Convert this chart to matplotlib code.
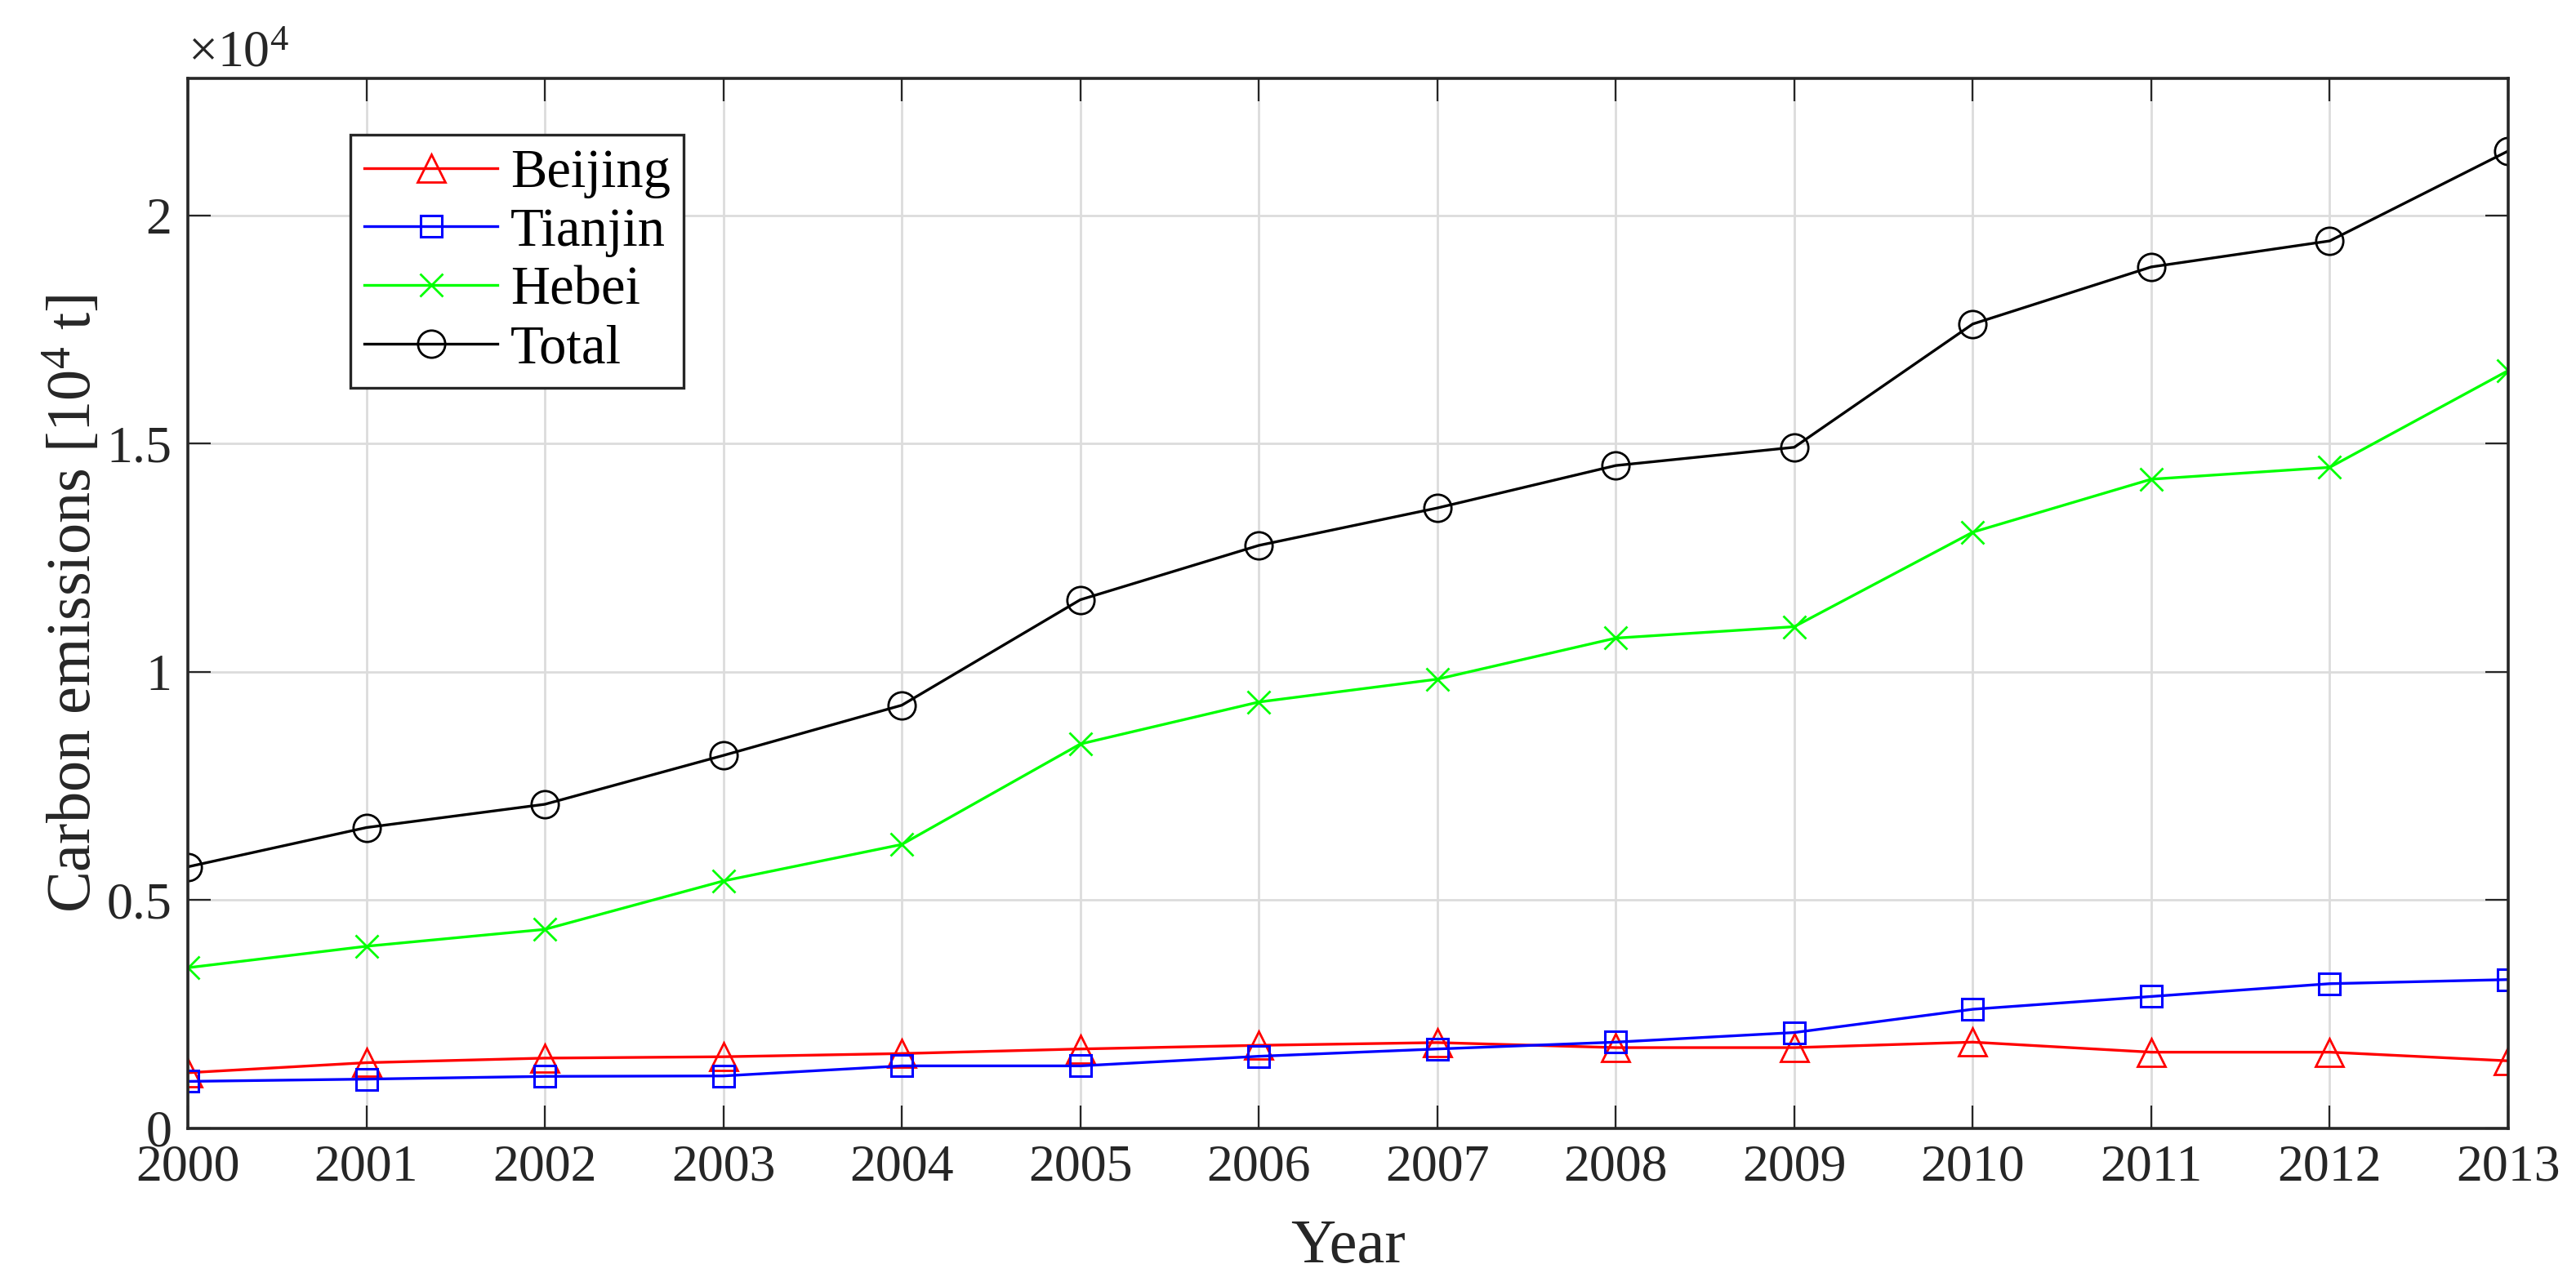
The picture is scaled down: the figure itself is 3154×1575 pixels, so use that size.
import matplotlib
matplotlib.use("Agg")
import matplotlib.pyplot as plt
from matplotlib.ticker import FuncFormatter, FixedLocator

plt.rcParams['font.family'] = ['Liberation Serif', 'DejaVu Serif']
plt.rcParams['mathtext.fontset'] = 'custom'
plt.rcParams['mathtext.rm'] = 'Liberation Serif'
plt.rcParams['mathtext.it'] = 'Liberation Serif:italic'

years = [2000, 2001, 2002, 2003, 2004, 2005, 2006, 2007, 2008, 2009, 2010, 2011, 2012, 2013]
# carbon emissions in 10^4 t
beijing = [1220, 1440, 1540, 1570, 1640, 1740, 1820, 1880, 1770, 1770, 1890, 1670, 1670, 1480]
tianjin = [1030, 1080, 1140, 1150, 1370, 1370, 1580, 1740, 1890, 2100, 2610, 2890, 3170, 3260]
hebei = [3520, 3990, 4360, 5420, 6220, 8420, 9340, 9840, 10740, 10990, 13060, 14220, 14480, 16600]
total = [5730, 6590, 7100, 8170, 9270, 11580, 12770, 13590, 14520, 14920, 17620, 18870, 19440, 21410]
series_names = ['Beijing', 'Tianjin', 'Hebei', 'Total']
y_ticks = [0, 5000, 10000, 15000, 20000]

W, H = 3154, 1575
fig = plt.figure(figsize=(W / 100, H / 100), dpi=100)
left, right, top, bottom = 230, 3071, 96, 1382
ax = fig.add_axes([left / W, 1 - bottom / H, (right - left) / W, (bottom - top) / H])

fs = 46
lfs = 55
dark = '#262626'
lw = 2.4
ax.plot(years, beijing, color='#ff0000', lw=lw, marker='^', ms=25, mfc='none', mew=2.0, label=series_names[0])
ax.plot(years, tianjin, color='#0000ff', lw=lw, marker='s', ms=19, mfc='none', mew=2.2, label=series_names[1])
ax.plot(years, hebei, color='#00ff00', lw=lw, marker='x', ms=20, mew=2.0, label=series_names[2])
ax.plot(years, total, color='#000000', lw=lw, marker='o', ms=24, mfc='none', mew=2.0, label=series_names[3])

ax.set_xlim(2000, 2013)
ax.set_ylim(0, 23000)
ax.xaxis.set_major_locator(FixedLocator(years))
ax.yaxis.set_major_locator(FixedLocator(y_ticks))
ax.xaxis.set_major_formatter(FuncFormatter(lambda v, p: '%d' % v))
ax.yaxis.set_major_formatter(FuncFormatter(lambda v, p: '%g' % (v / 1e4)))

ax.grid(True, color='#dcdcdc', lw=2.0)
ax.set_axisbelow(True)
for s in ax.spines.values():
    s.set_color(dark)
    s.set_linewidth(2.6)
ax.tick_params(direction='in', length=20, width=1.6, colors=dark, labelsize=fs,
               top=True, right=True, pad=14)
for lab in ax.get_xticklabels() + ax.get_yticklabels():
    lab.set_color(dark)

ax.set_xlabel('Year', fontsize=lfs, color=dark, va='center')
ax.xaxis.set_label_coords(0.5, -0.1135)
ax.set_ylabel(r'Carbon emissions [10$^{4}$ t]', fontsize=lfs, color=dark, va='center')
ax.yaxis.set_label_coords(-0.0493, 0.5)
ax.text(0.0, 1.0, r'$\times10^{4}$', transform=ax.transAxes, fontsize=fs, color=dark,
        ha='left', va='bottom')

leg = ax.legend(loc='upper left', bbox_to_anchor=(0.0702, 0.946), borderaxespad=0,
                fontsize=48, handlelength=2.45, handletextpad=0.23, labelspacing=0.16,
                borderpad=0.25, fancybox=False, framealpha=1, edgecolor=dark)
leg.get_frame().set_linewidth(2.4)

fig.savefig('out.png', dpi=100, facecolor='white')
